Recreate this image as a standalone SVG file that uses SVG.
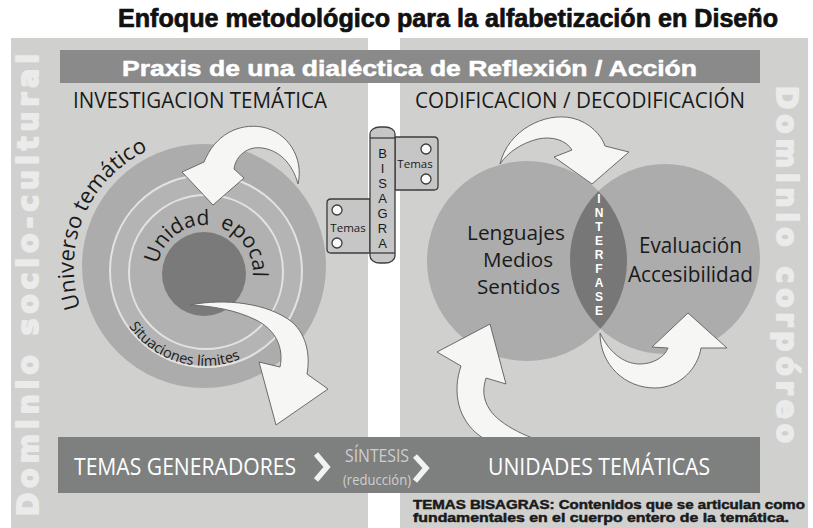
<svg xmlns="http://www.w3.org/2000/svg" width="813" height="528" viewBox="0 0 813 528">
<defs>
<style>
.panel{fill:#d0d1cf}
.hum{font-family:"Open Sans","Liberation Sans",sans-serif}
.bold{font-family:"Liberation Sans",Arial,sans-serif;font-weight:bold}
.heavy{font-family:"Liberation Sans",Arial,sans-serif;font-weight:bold;stroke-linejoin:round}
.arrow{fill:#f6f6f4;stroke:#6a6a6a;stroke-width:1}
.hinge{fill:#c6c6c6;stroke:#3c3c3c;stroke-width:1.3}
.hole{fill:#fafafa;stroke:#3c3c3c;stroke-width:1.3}
.vert{font-family:"DejaVu Sans","Liberation Sans",sans-serif;font-weight:bold;fill:#ebebeb;stroke:#ebebeb;stroke-width:2;stroke-linejoin:round;font-size:28px}
.wring{fill:none;stroke:#e2e2e2;stroke-width:2}
</style>
<path id="pUniv" d="M80.4,307.4 A128,128 0 0 1 166.5,143.6"/>
<path id="pUnid" d="M157,273 A48,48 0 1 1 253,273 A48,48 0 1 1 157,273"/>
<path id="pSit" d="M128.8,326.3 A93,93 0 0 0 264.8,344.2"/>
</defs>
<rect width="813" height="528" fill="#ffffff"/>

<g id="title">
<text class="heavy" x="118" y="27" font-size="25" textLength="660" lengthAdjust="spacingAndGlyphs" fill="#111" stroke="#111" stroke-width="0.7">Enfoque metodológico para la alfabetización en Diseño</text>
</g>

<g id="panel-left">
<rect class="panel" x="11" y="38" width="357" height="490"/>
<text class="vert" transform="translate(38,516) rotate(-90)" textLength="462" lengthAdjust="spacing">Dominio socio-cultural</text>
</g>
<g id="panel-right">
<rect class="panel" x="400" y="38" width="408" height="490"/>
<text class="vert" transform="translate(777,86) rotate(90)" textLength="357" lengthAdjust="spacing">Dominio corpóreo</text>
</g>

<g id="praxis">
<rect x="60" y="50" width="700" height="33" fill="#8a8a8a"/>
<text class="heavy" x="122" y="76" font-size="22" fill="#ffffff" stroke="#ffffff" stroke-width="0.5" textLength="575" lengthAdjust="spacingAndGlyphs">Praxis de una dialéctica de Reflexión / Acción</text>
</g>

<g id="heading-left">
<text class="hum" x="73" y="108" font-size="21" fill="#1a1a1a" textLength="254" lengthAdjust="spacingAndGlyphs">INVESTIGACION TEMÁTICA</text>
</g>
<g id="heading-right">
<text class="hum" x="415" y="108" font-size="21" fill="#1a1a1a" textLength="330" lengthAdjust="spacingAndGlyphs">CODIFICACION / DECODIFICACIÓN</text>
</g>

<g id="universo">
<circle cx="204" cy="266" r="122" fill="#acacac"/>
<circle cx="206" cy="271" r="96" fill="#b4b4b4"/>
<circle cx="206" cy="272" r="77" fill="#b1b1b1"/>
<circle class="wring" cx="206" cy="271" r="96"/>
<circle class="wring" cx="206" cy="272" r="77"/>
<text class="hum" font-size="22" fill="#1a1a1a"><textPath href="#pUniv">Universo temático</textPath></text>
<text class="hum" font-size="14.5" fill="#1a1a1a"><textPath href="#pSit">Situaciones límites</textPath></text>
</g>
<g id="unidad-epocal">
<circle cx="204" cy="274" r="42" fill="#7a7a7a"/>
<text class="hum" font-size="21" fill="#1a1a1a"><textPath href="#pUnid" startOffset="9">Unidad</textPath></text>
<text class="hum" font-size="21" fill="#1a1a1a"><textPath href="#pUnid" startOffset="90">epocal</textPath></text>
</g>

<g id="venn-left">
<circle cx="527" cy="261" r="100" fill="#acacac"/>
</g>
<g id="venn-right">
<circle cx="665" cy="259" r="95" fill="#acacac"/>
</g>
<g id="interfase">
<clipPath id="clipL"><circle cx="527" cy="261" r="100"/></clipPath>
<circle cx="665" cy="259" r="95" fill="#777777" clip-path="url(#clipL)"/>
<text class="bold" font-size="12" fill="#ffffff" text-anchor="middle"><tspan x="599" y="203">I</tspan><tspan x="599" dy="14">N</tspan><tspan x="599" dy="14">T</tspan><tspan x="599" dy="14">E</tspan><tspan x="599" dy="14">R</tspan><tspan x="599" dy="14">F</tspan><tspan x="599" dy="14">A</tspan><tspan x="599" dy="14">S</tspan><tspan x="599" dy="14">E</tspan></text>
</g>
<g id="venn-text" class="hum" fill="#1a1a1a">
<text x="467" y="240" font-size="19.8" textLength="98" lengthAdjust="spacingAndGlyphs">Lenguajes</text>
<text x="483" y="267" font-size="19.8" textLength="70" lengthAdjust="spacingAndGlyphs">Medios</text>
<text x="477" y="294" font-size="19.8" textLength="83" lengthAdjust="spacingAndGlyphs">Sentidos</text>
<text x="639" y="253" font-size="21" textLength="103" lengthAdjust="spacingAndGlyphs">Evaluación</text>
<text x="628" y="282" font-size="21" textLength="125" lengthAdjust="spacingAndGlyphs">Accesibilidad</text>
</g>

<g id="bisagra">
<path class="hinge" d="M395,137 H434 Q438,137 438,141 V186 Q438,190 434,190 H395 Z"/>
<circle class="hole" cx="426" cy="149" r="5"/>
<circle class="hole" cx="426" cy="179" r="5"/>
<text class="hum" x="415" y="168" font-size="11.5" fill="#1a1a1a" text-anchor="middle">Temas</text>
<path class="hinge" d="M370,199 H331 Q327,199 327,203 V249 Q327,253 331,253 H370 Z"/>
<circle class="hole" cx="337" cy="210" r="5"/>
<circle class="hole" cx="337" cy="243" r="5"/>
<text class="hum" x="348" y="232" font-size="11.5" fill="#1a1a1a" text-anchor="middle">Temas</text>
<rect class="hinge" x="370" y="127" width="25" height="136" rx="10" ry="7"/>
<line x1="370" y1="138" x2="395" y2="138" stroke="#3c3c3c" stroke-width="1.3"/>
<line x1="370" y1="253" x2="395" y2="253" stroke="#3c3c3c" stroke-width="1.3"/>
<text font-family="Liberation Sans, Arial, sans-serif" font-size="13" fill="#1a1a1a" text-anchor="middle"><tspan x="382.5" y="158">B</tspan><tspan x="382.5" dy="15">I</tspan><tspan x="382.5" dy="15">S</tspan><tspan x="382.5" dy="15">A</tspan><tspan x="382.5" dy="15">G</tspan><tspan x="382.5" dy="15">R</tspan><tspan x="382.5" dy="15">A</tspan></text>
</g>

<g id="connectors">
<path class="arrow" d="M298,184 C304,158 288,132 262,127 C238,123 215,135 204,162 L182,172 L213,205 L244,178 L234,169 C236,155 248,146 262,148 C278,150 292,162 298,184 Z"/>
<path class="arrow" d="M190,305 C225,298 268,303 292,322 C308,336 310,358 307,374 L328,389 L276,425 L259,362 L280,367 C284,348 276,330 256,320 C236,310 212,306 190,305 Z"/>
<path class="arrow" d="M500,164 C508,130 545,112 572,118 C590,122 602,136 605,146 L629,152 L592,184 L554,157 L572,150 C566,140 552,136 538,139 C522,143 508,152 500,164 Z"/>
<path class="arrow" d="M600,333 C600,365 625,388 655,388 C680,388 698,368 701,348 L727,348 L688,313 L652,347 L668,348 C664,358 652,364 640,364 C622,364 608,350 600,333 Z"/>
<path class="arrow" d="M490,324 L437,352 L461,366 C452,392 458,420 480,436 C495,446 520,452 560,446 C530,440 500,425 490,410 C482,398 483,388 486,378 L506,384 Z"/>
</g>

<g id="sintesis-bar">
<rect x="58" y="437" width="702" height="56" fill="#7e7f7f"/>
<text class="hum" x="74" y="475" font-size="24" fill="#ffffff" textLength="222" lengthAdjust="spacingAndGlyphs">TEMAS GENERADORES</text>
<polyline points="316,454 327,467 316,480" fill="none" stroke="#f2f2f2" stroke-width="5.5" stroke-linejoin="miter"/>
<text class="hum" x="345" y="462" font-size="19" fill="#cfcfcf" textLength="64" lengthAdjust="spacingAndGlyphs">SÍNTESIS</text>
<text class="hum" x="343" y="485" font-size="15" fill="#cfcfcf" textLength="68" lengthAdjust="spacingAndGlyphs">(reducción)</text>
<polyline points="415,456 426,468 415,481" fill="none" stroke="#f2f2f2" stroke-width="5.5" stroke-linejoin="miter"/>
<text class="hum" x="488" y="475" font-size="24" fill="#ffffff" textLength="222" lengthAdjust="spacingAndGlyphs">UNIDADES TEMÁTICAS</text>
</g>

<g id="note">
<text class="heavy" x="413" y="509" font-size="12" fill="#1a1a1a" stroke="#1a1a1a" stroke-width="0.45" textLength="392" lengthAdjust="spacingAndGlyphs">TEMAS BISAGRAS: Contenidos que se articulan como</text>
<text class="heavy" x="413" y="522" font-size="12" fill="#1a1a1a" stroke="#1a1a1a" stroke-width="0.45" textLength="376" lengthAdjust="spacingAndGlyphs">fundamentales en el cuerpo entero de la temática.</text>
</g>
</svg>
